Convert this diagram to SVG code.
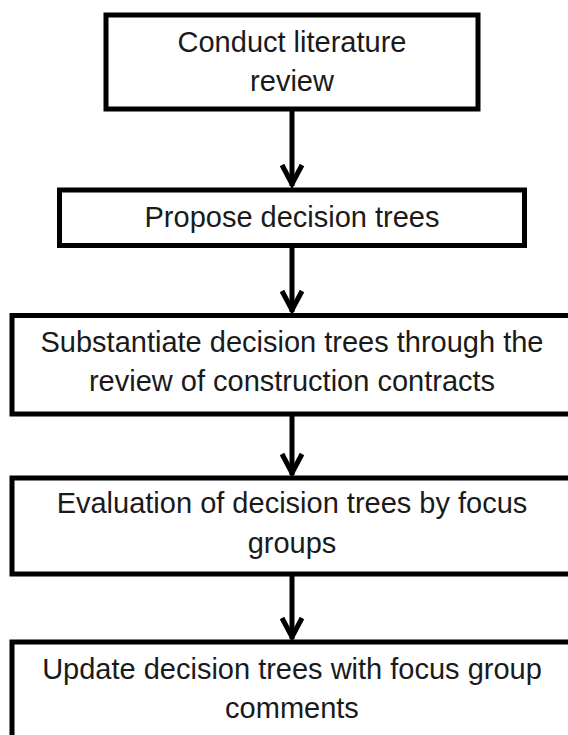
<svg xmlns="http://www.w3.org/2000/svg" width="568" height="735" viewBox="0 0 568 735">
  <defs>
    <style>
      .box { fill: #ffffff; stroke: #000000; stroke-width: 5; }
      .lbl { font-family: "Liberation Sans", Arial, sans-serif; font-size: 29px; fill: #1a1a1a; text-anchor: middle; }
      .conn { stroke: #000000; stroke-width: 5; fill: none; }
    </style>
    <marker id="arr" markerUnits="userSpaceOnUse" markerWidth="30" markerHeight="30" viewBox="-26 -15 30 30" refX="0" refY="0" orient="auto">
      <polyline points="-21,-10 -2,0 -21,10" fill="none" stroke="#000" stroke-width="5" stroke-linejoin="miter"/>
    </marker>
  </defs>
  <rect width="568" height="735" fill="#ffffff"/>

  <g id="n1">
    <rect class="box" x="106" y="15" width="372" height="94"/>
    <text class="lbl" x="292" y="52">Conduct literature</text>
    <text class="lbl" x="292" y="91">review</text>
  </g>
  <g id="n2">
    <rect class="box" x="59.5" y="190" width="465" height="55.5"/>
    <text class="lbl" x="292" y="227">Propose decision trees</text>
  </g>
  <g id="n3">
    <rect class="box" x="12" y="315.5" width="560" height="98.5"/>
    <text class="lbl" x="292" y="352">Substantiate decision trees through the</text>
    <text class="lbl" x="292" y="391">review of construction contracts</text>
  </g>
  <g id="n4">
    <rect class="box" x="12" y="478" width="560" height="96"/>
    <text class="lbl" x="292" y="513">Evaluation of decision trees by focus</text>
    <text class="lbl" x="292" y="553">groups</text>
  </g>
  <g id="n5">
    <rect class="box" x="12" y="642" width="560" height="110"/>
    <text class="lbl" x="292" y="679">Update decision trees with focus group</text>
    <text class="lbl" x="292" y="718">comments</text>
  </g>

  <g id="connectors">
    <line class="conn" x1="292" y1="111" x2="292" y2="186" marker-end="url(#arr)"/>
    <line class="conn" x1="292" y1="248" x2="292" y2="312" marker-end="url(#arr)"/>
    <line class="conn" x1="292" y1="416" x2="292" y2="475" marker-end="url(#arr)"/>
    <line class="conn" x1="292" y1="576" x2="292" y2="639" marker-end="url(#arr)"/>
  </g>
</svg>
